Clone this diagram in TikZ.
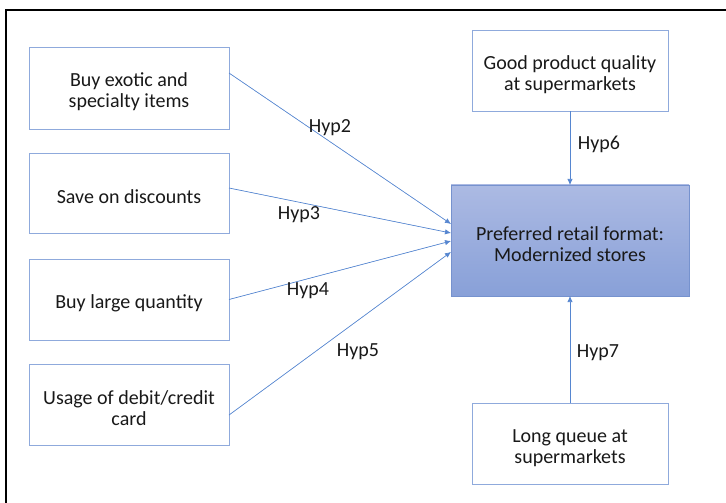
\documentclass[tikz,border=0pt]{standalone}
\usepackage{fontspec}
\setmainfont{Carlito}
\usetikzlibrary{arrows.meta}
\definecolor{boxline}{RGB}{143,170,220}
\definecolor{arrowline}{RGB}{86,134,208}
\definecolor{maintop}{RGB}{172,186,227}
\definecolor{mainbottom}{RGB}{136,160,216}
\definecolor{mainline}{RGB}{118,146,206}
\definecolor{inktext}{RGB}{25,25,25}
\def\BoxW{150pt}
\def\BoxH{60.75pt}
\def\Lift{\rule{0pt}{16.5pt}}
\tikzset{
  factor/.style={draw=boxline, line width=0.6pt, fill=white, align=center,
    minimum width=\BoxW, minimum height=\BoxH, inner sep=0pt, outer sep=0pt,
    text=inktext, font=\fontsize{15}{15.8}\selectfont},
  hyp/.style={-{Latex[length=4.5pt,width=4pt]}, draw=arrowline, fill=arrowline, line width=0.5pt},
  hyplabel/.style={text=inktext, font=\fontsize{15}{15.8}\selectfont, inner sep=0pt}
}

\begin{document}
\begin{tikzpicture}[x=0.75pt, y=-0.75pt]
\useasboundingbox (0,0) rectangle (726,503);

\draw[line width=1.5pt] (6,510) -- (6,10) -- (730,10);

\node[factor, minimum height=61.5pt] (exotic) at (129,88) {\Lift Buy exotic and\\specialty items};
\node[factor, minimum height=60pt] (discount) at (129,193) {\Lift Save on discounts};
\node[factor] (quantity) at (129,299.5) {\Lift Buy large quantity};
\node[factor] (card) at (129,404.5) {\Lift Usage of debit/credit\\card};

\node[factor, minimum width=147pt] (quality) at (570,71) {\Lift Good product quality\\at supermarkets};
\node[factor, minimum width=147pt] (queue) at (570,443.5) {\Lift Long queue at\\supermarkets};

\node[factor, draw=mainline, top color=maintop, bottom color=mainbottom,
  minimum width=178.5pt, minimum height=83.25pt] (format) at (570,240.5)
  {\Lift Preferred retail format:\\Modernized stores};

\draw[hyp] ([yshift=11.25pt]exotic.east) -- ([yshift=12.4pt]format.west);
\draw[hyp] ([yshift=3.75pt]discount.east) -- ([yshift=5.6pt]format.west);
\draw[hyp] (quantity.east) -- ([yshift=-0.4pt]format.west);
\draw[hyp] ([yshift=-7.9pt]card.east) -- ([yshift=-8.6pt]format.west);
\draw[hyp] (quality.south) -- (format.north);
\draw[hyp] (queue.north) -- (format.south);

\node[hyplabel] (h2) at (330,128) {Hyp2};
\node[hyplabel] (h3) at (299,215) {Hyp3};
\node[hyplabel] (h4) at (308,291) {Hyp4};
\node[hyplabel] (h5) at (358,352) {Hyp5};
\node[hyplabel] (h6) at (599,144) {Hyp6};
\node[hyplabel] (h7) at (598,353) {Hyp7};
\end{tikzpicture}
\end{document}
